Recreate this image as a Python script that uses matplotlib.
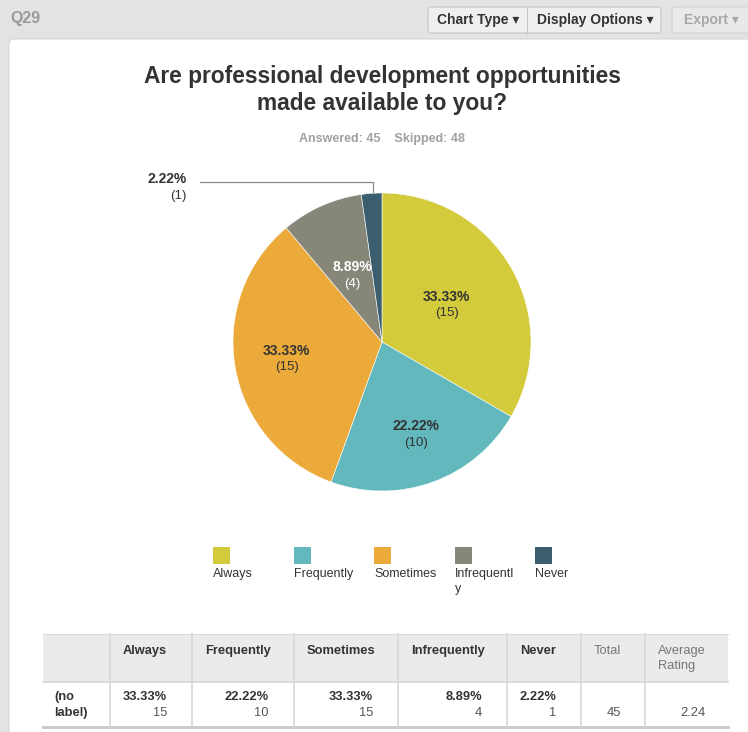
import matplotlib.pyplot as plt
from matplotlib.patches import Rectangle, FancyBboxPatch
import numpy as np

plt.rcParams['font.family'] = ['Liberation Sans', 'DejaVu Sans']

# survey data
question = "Are professional development opportunities\nmade available to you?"
categories = ["Always", "Frequently", "Sometimes", "Infrequently", "Never"]
legend_labels = ["Always", "Frequently", "Sometimes", "Infrequentl\ny", "Never"]
counts = [15, 10, 15, 4, 1]
answered = 45
skipped = 48
colors = ["#D3CB3B", "#62B8BD", "#EBAA39", "#878779", "#3A5E6D"]

total = sum(counts)
pcts = [c / total * 100 for c in counts]
avg_rating = sum((i + 1) * c for i, c in enumerate(counts)) / total

W, H = 748, 732
fig = plt.figure(figsize=(W / 100, H / 100), dpi=100)
fig.patch.set_facecolor('#E3E3E3')

# pixel-space canvas for the page furniture
bg = fig.add_axes([0, 0, 1, 1])
bg.set_xlim(0, W)
bg.set_ylim(H, 0)
bg.axis('off')

dark = '#333333'
fs = 9.3

# white panel
bg.add_patch(FancyBboxPatch((9, 39), W + 20, H, boxstyle='round,pad=0,rounding_size=5',
                            facecolor='white', edgecolor='#D6D6D6', lw=0.8))

# header bar
bg.text(10, 19, "Q29", fontsize=11.5, fontweight='bold', color='#9A9A9A', va='center')
bg.add_patch(FancyBboxPatch((428, 7), 233, 26, boxstyle='round,pad=0,rounding_size=3',
                            facecolor='#EFEFEF', edgecolor='#C4C4C4', lw=0.8))
bg.plot([527, 527], [7, 33], color='#C4C4C4', lw=0.8)
bg.text(478, 20, "Chart Type \u25BE", fontsize=10, fontweight='bold', color=dark, ha='center', va='center')
bg.text(595, 20, "Display Options \u25BE", fontsize=10, fontweight='bold', color=dark, ha='center', va='center')
bg.add_patch(FancyBboxPatch((672, 7), 100, 26, boxstyle='round,pad=0,rounding_size=3',
                            facecolor='#E9E9E9', edgecolor='#D2D2D2', lw=0.8))
bg.text(711, 20, "Export \u25BE", fontsize=10, fontweight='bold', color='#A8A8A8', ha='center', va='center')

# title
bg.text(382, 90, question, fontsize=16.4, fontweight='bold', color=dark,
        ha='center', va='center', linespacing=1.27)
bg.text(382, 139, f"Answered: {answered}    Skipped: {skipped}", fontsize=9,
        fontweight='bold', color='#A0A0A0', ha='center', va='center')

# pie
cx, cy, r = 382, 342, 149
pax = fig.add_axes([(cx - r) / W, (H - cy - r) / H, 2 * r / W, 2 * r / H])
wedges, _ = pax.pie(counts, colors=colors, startangle=90, counterclock=False,
                    wedgeprops=dict(edgecolor='white', linewidth=0.4))
pax.set_xlim(-1, 1)
pax.set_ylim(-1, 1)
pax.set_aspect('auto')

label_dist = [0.5, 0.66, 0.65, 0.49]
label_col = [dark, dark, dark, 'white']
for w, p, c, d, tc in zip(wedges, pcts, counts, label_dist, label_col):
    ang = np.deg2rad((w.theta1 + w.theta2) / 2)
    x, y = d * np.cos(ang), d * np.sin(ang)
    pax.text(x, y + 0.055, f"{p:.2f}%", fontsize=10, fontweight='bold', color=tc,
             ha='center', va='center')
    pax.text(x, y - 0.057, f"({c})", fontsize=9.5, color=tc, ha='center', va='center')

# callout for the small slice
w = wedges[-1]
ang = np.deg2rad((w.theta1 + w.theta2) / 2)
ex, ey = 0.87 * np.cos(ang), 0.87 * np.sin(ang)
px = cx + ex * r
py = cy - ey * r
bg.plot([200, px, px], [182, 182, py], color='#8A8A8A', lw=0.9, zorder=5)
bg.text(187, 179, f"{pcts[-1]:.2f}%", fontsize=10, fontweight='bold', color=dark, ha='right', va='center')
bg.text(187, 196, f"({counts[-1]})", fontsize=9.5, color=dark, ha='right', va='center')

# legend
leg_x = [213, 294, 374, 455, 535]
for lx, lab, col in zip(leg_x, legend_labels, colors):
    bg.add_patch(Rectangle((lx, 547), 17, 17, facecolor=col, edgecolor='none'))
    bg.text(lx, 568, lab, fontsize=9, color=dark, ha='left', va='top', linespacing=1.3)

# summary table
col_x = [43, 110, 192, 294, 398, 507, 581, 645, 728]
top, mid, bot = 634, 682, 727
bg.add_patch(Rectangle((col_x[0], top), col_x[-1] - col_x[0], mid - top,
                       facecolor='#EBEBEB', edgecolor='none'))
bg.plot([col_x[0], col_x[-1]], [top, top], color='#DADADA', lw=0.8)
bg.plot([col_x[0], col_x[-1]], [mid, mid], color='#D6D6D6', lw=1.2)
bg.plot([col_x[0], col_x[-1]], [bot, bot], color='#C8C8C8', lw=2)
for x in col_x[1:-1]:
    bg.plot([x, x], [top, bot], color='#D8D8D8', lw=1.2)

headers = categories + ["Total", "Average\nRating"]
for i, h in enumerate(headers):
    bold = i < len(categories)
    bg.text(col_x[i + 1] + 13, 645, h, fontsize=fs, fontweight='bold' if bold else 'normal',
            color=dark if bold else '#777777', ha='left', va='top', linespacing=1.3)

bg.text(54, 697, "(no", fontsize=fs, fontweight='bold', color=dark, ha='left', va='center')
bg.text(54, 713, "label)", fontsize=fs, fontweight='bold', color=dark, ha='left', va='center')
for i, (p, c) in enumerate(zip(pcts, counts)):
    rx = col_x[i + 2] - 25
    bg.text(rx, 697, f"{p:.2f}%", fontsize=fs, fontweight='bold', color=dark, ha='right', va='center')
    bg.text(rx, 713, f"{c}", fontsize=fs, color='#555555', ha='right', va='center')
bg.text(col_x[7] - 24, 713, f"{total}", fontsize=fs, color='#555555', ha='right', va='center')
bg.text(col_x[8] - 22, 713, f"{avg_rating:.2f}", fontsize=fs, color='#555555', ha='right', va='center')

fig.savefig('out.png', dpi=100, facecolor=fig.get_facecolor())
